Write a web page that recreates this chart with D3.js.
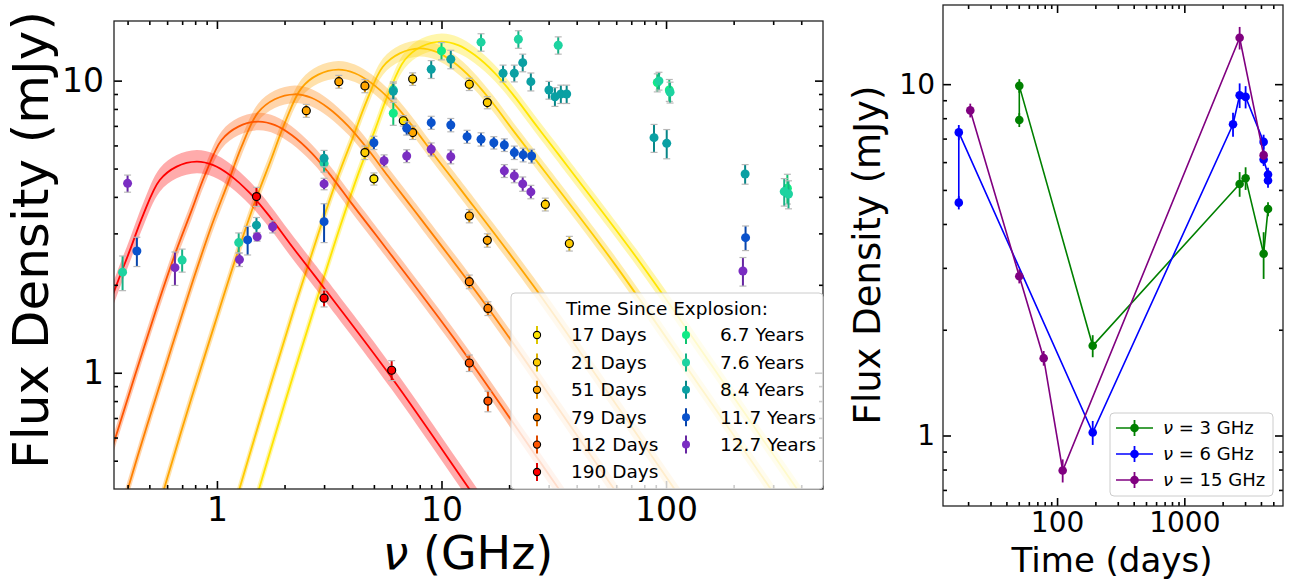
<!DOCTYPE html>
<html>
<head>
<meta charset="utf-8">
<script src="https://cdn.jsdelivr.net/npm/d3@7"></script>
<style>
  body { margin: 0; background: #fff; }
  svg { display: block; font-family: "DejaVu Sans", sans-serif; }
</style>
</head>
<body>
<div id="chart"></div>
<script>
// ---------- Left panel: radio SED, one set of arrays per epoch ----------
const sedLabels = ["17 Days", "21 Days", "51 Days", "79 Days", "112 Days", "190 Days",
                   "6.7 Years", "7.6 Years", "8.4 Years", "11.7 Years", "12.7 Years"];

const nu17d = [5.0, 6.76];
const flux17d = [4.61, 7.29];
const err17d = [0.22, 0.3];

const nu21d = [4.56, 7.44, 13.3, 16.0, 29.0, 37.1];
const flux21d = [5.67, 10.13, 9.72, 8.41, 3.77, 2.77];
const err21d = [0.3, 0.5, 0.47, 0.4, 0.19, 0.16];

const nu51d = [2.5, 3.49, 4.56, 7.44, 13.3, 16.0];
const flux51d = [7.89, 9.92, 9.59, 6.64, 3.44, 2.84];
const err51d = [0.4, 0.5, 0.5, 0.35, 0.18, 0.15];

const nu79d = [13.3, 16.1];
const flux79d = [2.05, 1.66];
const err79d = [0.11, 0.09];

const nu112d = [13.3, 16.1];
const flux112d = [1.08, 0.80];
const err112d = [0.07, 0.065];

const nu190d = [1.5, 3.0, 6.0];
const flux190d = [4.01, 1.80, 1.02];
const err190d = [0.3, 0.12, 0.08];

const nu6p7y = [6.1, 10.0, 91.4, 103.4, 347];
const flux6p7y = [7.73, 12.64, 9.85, 9.29, 4.28];
const err6p7y = [0.7, 0.86, 0.7, 0.8, 0.5];

const nu7p6y = [0.38, 0.70, 1.25, 3.0, 6.1, 15.0, 22.0, 33.1, 93.0, 104.2, 336, 351];
const flux7p6y = [2.21, 2.43, 2.79, 5.21, 9.3, 13.54, 13.86, 13.22, 9.98, 9.13, 4.17, 4.09];
const err7p6y = [0.3, 0.22, 0.22, 0.35, 0.6, 0.93, 0.96, 0.9, 0.7, 0.75, 0.45, 0.45];

const nu8p4y = [1.5, 3.0, 6.1, 9.0, 11.0, 18.8, 21.1, 23.0, 25.0, 30.1, 32.0, 34.0, 36.1, 88.4, 100.7, 225];
const flux8p4y = [3.2, 5.42, 9.2, 10.94, 11.84, 10.6, 10.6, 11.52, 9.92, 9.29, 8.81, 9.0, 9.0, 6.38, 6.1, 4.79];
const err8p4y = [0.2, 0.35, 0.6, 0.77, 0.86, 0.7, 0.7, 0.8, 0.7, 0.65, 0.65, 0.65, 0.65, 0.7, 0.7, 0.37];

const nu11p7y = [0.44, 1.37, 3.0, 5.0, 7.0, 9.0, 11.0, 13.0, 15.0, 17.1, 19.05, 21.1, 23.1, 25.2, 226];
const flux11p7y = [2.61, 2.85, 3.29, 6.13, 6.87, 7.18, 7.05, 6.43, 6.3, 6.13, 6.02, 5.67, 5.57, 5.52, 2.90];
const err11p7y = [0.3, 0.32, 0.5, 0.32, 0.36, 0.37, 0.37, 0.33, 0.33, 0.3, 0.3, 0.3, 0.3, 0.3, 0.28];

const nu12p7y = [0.40, 0.65, 1.26, 1.51, 1.77, 3.0, 5.55, 7.0, 9.0, 11.0, 19.05, 21.1, 23.0, 25.0, 220];
const flux12p7y = [4.45, 2.29, 2.44, 2.92, 3.16, 4.43, 5.32, 5.52, 5.82, 5.49, 4.91, 4.72, 4.43, 4.16, 2.23];
const err12p7y = [0.3, 0.3, 0.13, 0.1, 0.15, 0.2, 0.25, 0.28, 0.3, 0.3, 0.25, 0.25, 0.25, 0.22, 0.25];

// Model curves for the first six epochs
const model17dNu = [1.41, 2.0, 2.82, 3.55, 4.29, 5.05, 5.78, 6.86, 8.15, 10.0, 11.86, 14.06, 17.28, 21.21, 26.0, 32.0, 36.7, 74.0, 170.6, 398, 1000];
const model17dFlux = [0.319, 0.783, 1.835, 3.19, 4.87, 6.77, 8.95, 11.76, 13.08, 13.6, 13.23, 12.23, 10.61, 8.80, 7.14, 5.80, 5.05, 2.475, 0.985, 0.383, 0.136];
const model21dNu = [1.13, 1.60, 2.25, 2.84, 3.43, 4.04, 4.63, 5.48, 6.52, 8.0, 9.49, 11.25, 13.82, 16.97, 20.8, 25.6, 29.4, 59.2, 136.5, 318.5, 800];
const model21dFlux = [0.302, 0.742, 1.74, 3.02, 4.62, 6.42, 8.48, 11.16, 12.40, 12.9, 12.55, 11.60, 10.06, 8.35, 6.77, 5.50, 4.79, 2.35, 0.934, 0.364, 0.129];
const model51dNu = [0.490, 0.692, 0.978, 1.231, 1.487, 1.751, 2.006, 2.379, 2.827, 3.47, 4.115, 4.879, 5.996, 7.36, 9.022, 11.10, 12.75, 25.66, 59.2, 138.1, 347];
const model51dFlux = [0.2555, 0.627, 1.47, 2.555, 3.903, 5.425, 7.169, 9.429, 10.48, 10.9, 10.60, 9.805, 8.50, 7.053, 5.72, 4.65, 4.049, 1.984, 0.79, 0.307, 0.109];
const model79dNu = [0.314, 0.443, 0.626, 0.788, 0.951, 1.120, 1.283, 1.522, 1.809, 2.22, 2.633, 3.121, 3.836, 4.709, 5.772, 7.102, 8.154, 16.42, 37.87, 88.4, 222];
const model79dFlux = [0.2105, 0.517, 1.211, 2.105, 3.216, 4.469, 5.906, 7.768, 8.635, 8.98, 8.735, 8.078, 7.003, 5.811, 4.713, 3.831, 3.336, 1.634, 0.6505, 0.2531, 0.0898];
const model112dNu = [0.216, 0.305, 0.431, 0.543, 0.656, 0.772, 0.885, 1.049, 1.246, 1.53, 1.815, 2.151, 2.644, 3.245, 3.978, 4.894, 5.62, 11.32, 26.1, 60.9, 153];
const model112dFlux = [0.1697, 0.4166, 0.9767, 1.697, 2.593, 3.603, 4.762, 6.263, 6.962, 7.24, 7.042, 6.512, 5.646, 4.685, 3.80, 3.089, 2.69, 1.318, 0.5245, 0.204, 0.0724];
const model190dNu = [0.1147, 0.162, 0.2288, 0.2881, 0.3479, 0.4098, 0.4694, 0.5566, 0.6615, 0.812, 0.963, 1.142, 1.403, 1.722, 2.111, 2.598, 2.982, 6.006, 13.85, 32.33, 81.2];
const model190dFlux = [0.1238, 0.3038, 0.7123, 1.238, 1.891, 2.628, 3.473, 4.567, 5.077, 5.28, 5.136, 4.749, 4.117, 3.417, 2.771, 2.252, 1.962, 0.961, 0.3825, 0.1488, 0.0528];
// half-width of the shaded model band, in dex
const modelBandDex = [0.028, 0.028, 0.03, 0.03, 0.03, 0.04];

const sedMajorX = [1, 10, 100];
const sedMinorX = [0.4, 0.5, 0.6, 0.7, 0.8, 0.9, 2, 3, 4, 5, 6, 7, 8, 9, 20, 30, 40, 50, 60, 70, 80, 90, 200, 300, 400];
const sedMajorY = [1, 10];
const sedMinorY = [0.5, 0.6, 0.7, 0.8, 0.9, 2, 3, 4, 5, 6, 7, 8, 9];

// ---------- Right panel: light curves ----------
const lcLabels = ["3 GHz", "6 GHz", "15 GHz"];
const t3GHz = [50.5, 50.5, 190.6, 2720, 3030, 4198, 4545];
const flux3GHz = [7.91, 9.89, 1.80, 5.20, 5.40, 3.29, 4.41];
const err3GHz = [0.36, 0.44, 0.13, 0.42, 0.4, 0.5, 0.2];
const t6GHz = [16.9, 16.9, 190.6, 2413, 2720, 3030, 4198, 4198, 4545, 4545];
const flux6GHz = [4.60, 7.29, 1.02, 7.69, 9.30, 9.20, 6.85, 6.10, 5.53, 5.32];
const err6GHz = [0.2, 0.36, 0.08, 0.6, 0.75, 0.67, 0.33, 0.25, 0.25, 0.25];
const t15GHz = [20.8, 50.5, 78.5, 110.7, 2720, 4198];
const flux15GHz = [8.42, 2.84, 1.66, 0.795, 13.55, 6.28];
const err15GHz = [0.38, 0.13, 0.08, 0.06, 1.0, 0.2];

const lcMajorX = [100, 1000];
const lcMinorX = [20, 30, 40, 50, 60, 70, 80, 90, 200, 300, 400, 500, 600, 700, 800, 900, 2000, 3000, 4000, 5000];
const lcMajorY = [1, 10];
const lcMinorY = [0.7, 0.8, 0.9, 2, 3, 4, 5, 6, 7, 8, 9];

// ---------- styles ----------
const sedColors = ["#ffe500", "#ffcc00", "#ffa500", "#ff8000", "#ff5500", "#ff0000",
                   "#12ea86", "#1dd3a0", "#0aa0a3", "#0a52cc", "#7a2dc2"];
const lcColors = ["#008000", "#0000ff", "#800080"];

const sedNu = [nu17d, nu21d, nu51d, nu79d, nu112d, nu190d, nu6p7y, nu7p6y, nu8p4y, nu11p7y, nu12p7y];
const sedFlux = [flux17d, flux21d, flux51d, flux79d, flux112d, flux190d, flux6p7y, flux7p6y, flux8p4y, flux11p7y, flux12p7y];
const sedErr = [err17d, err21d, err51d, err79d, err112d, err190d, err6p7y, err7p6y, err8p4y, err11p7y, err12p7y];
const modelNu = [model17dNu, model21dNu, model51dNu, model79dNu, model112dNu, model190dNu];
const modelFlux = [model17dFlux, model21dFlux, model51dFlux, model79dFlux, model112dFlux, model190dFlux];

const W = 1290, H = 580;
const svg = d3.select("#chart").append("svg")
    .attr("width", W)
    .attr("height", H);

svg.append("rect").attr("width", W).attr("height", H).attr("fill", "#fff");

// Draws inward ticks on all four sides of a log/log box
function drawFrame(g, x, y, majX, minX, majY, minY, fontSize, padX, padY) {
    let [x0, x1] = x.range();
    let [y0, y1] = y.range();
    let fmt = d3.format("d");

    let bottom = g.append("g").attr("transform", "translate(0," + y0 + ")");
    bottom.call(d3.axisBottom(x).tickValues(minX).tickSize(-4).tickSizeOuter(0).tickFormat(""));
    bottom.append("g").call(d3.axisBottom(x).tickValues(majX).tickSize(-8).tickSizeOuter(0).tickPadding(padX).tickFormat(fmt));

    let top = g.append("g").attr("transform", "translate(0," + y1 + ")");
    top.call(d3.axisTop(x).tickValues(minX).tickSize(-4).tickSizeOuter(0).tickFormat(""));
    top.append("g").call(d3.axisTop(x).tickValues(majX).tickSize(-8).tickSizeOuter(0).tickFormat(""));

    let left = g.append("g").attr("transform", "translate(" + x0 + ",0)");
    left.call(d3.axisLeft(y).tickValues(minY).tickSize(-4).tickSizeOuter(0).tickFormat(""));
    left.append("g").call(d3.axisLeft(y).tickValues(majY).tickSize(-8).tickSizeOuter(0).tickPadding(padY).tickFormat(fmt));

    let right = g.append("g").attr("transform", "translate(" + x1 + ",0)");
    right.call(d3.axisRight(y).tickValues(minY).tickSize(-4).tickSizeOuter(0).tickFormat(""));
    right.append("g").call(d3.axisRight(y).tickValues(majY).tickSize(-8).tickSizeOuter(0).tickFormat(""));

    g.selectAll(".domain").remove();
    g.selectAll(".tick line").attr("stroke", "#000").attr("stroke-width", 1.1);
    g.selectAll("g g .tick line").attr("stroke-width", 1.6);
    g.selectAll(".tick text")
        .attr("font-family", "DejaVu Sans, sans-serif")
        .attr("font-size", fontSize)
        .attr("fill", "#000");

    g.append("rect")
        .attr("x", x0).attr("y", y1)
        .attr("width", x1 - x0).attr("height", y0 - y1)
        .attr("fill", "none")
        .attr("stroke", "#222")
        .attr("stroke-width", 1.3);
}

// ================= Left panel =================
const xL = d3.scaleLog().domain([0.348, 500]).range([114, 823]);
const yL = d3.scaleLog().domain([0.4, 16]).range([489, 21]);

svg.append("clipPath").attr("id", "clipL")
  .append("rect").attr("x", 114).attr("y", 21).attr("width", 709).attr("height", 468);

const plotL = svg.append("g").attr("clip-path", "url(#clipL)");

// model bands and lines
modelNu.forEach((nus, i) => {
    let pts = nus.map((nu, j) => [nu, modelFlux[i][j]]);
    let k = Math.pow(10, modelBandDex[i]);
    let band = d3.area()
        .x(d => xL(d[0]))
        .y0(d => yL(d[1] / k))
        .y1(d => yL(d[1] * k))
        .curve(d3.curveCatmullRom);
    let line = d3.line()
        .x(d => xL(d[0]))
        .y(d => yL(d[1]))
        .curve(d3.curveCatmullRom);

    plotL.append("path")
        .attr("d", band(pts))
        .attr("fill", sedColors[i])
        .attr("fill-opacity", 0.33);
    plotL.append("path")
        .attr("d", line(pts))
        .attr("fill", "none")
        .attr("stroke", sedColors[i])
        .attr("stroke-width", 1.8);
});

// data points with error bars
const pointsL = svg.append("g");
sedLabels.forEach((label, i) => {
    let early = i < 6;
    let pts = sedNu[i].map((nu, j) => ({ nu: nu, f: sedFlux[i][j], e: sedErr[i][j] }));
    let barColor = d3.color(sedColors[i]).darker(early ? 0.4 : 0.5).formatHex();
    let g = pointsL.append("g");

    g.selectAll(".bar").data(pts).join("line")
        .attr("x1", d => xL(d.nu)).attr("x2", d => xL(d.nu))
        .attr("y1", d => yL(d.f - d.e)).attr("y2", d => yL(d.f + d.e))
        .attr("stroke", barColor)
        .attr("stroke-width", 2);

    g.selectAll(".cap").data(pts.flatMap(d => [d.f - d.e, d.f + d.e].map(v => ({ nu: d.nu, v: v })))).join("line")
        .attr("x1", d => xL(d.nu) - 3.5).attr("x2", d => xL(d.nu) + 3.5)
        .attr("y1", d => yL(d.v)).attr("y2", d => yL(d.v))
        .attr("stroke", "#b8b8b8")
        .attr("stroke-width", 1.2);

    g.selectAll("circle").data(pts).join("circle")
        .attr("cx", d => xL(d.nu))
        .attr("cy", d => yL(d.f))
        .attr("r", early ? 4 : 4.5)
        .attr("fill", sedColors[i])
        .attr("stroke", early ? "#000" : "none")
        .attr("stroke-width", 1.2);
});

drawFrame(svg.append("g"), xL, yL, sedMajorX, sedMinorX, sedMajorY, sedMinorY, 33, 9, 10);

// axis titles
svg.append("text")
    .attr("x", 468).attr("y", 569)
    .attr("text-anchor", "middle")
    .attr("font-size", 46)
    .html('<tspan font-style="italic">ν</tspan> (GHz)');

svg.append("text")
    .attr("transform", "translate(48,240) rotate(-90)")
    .attr("text-anchor", "middle")
    .attr("font-size", 50)
    .text("Flux Density (mJy)");

// legend
const legL = svg.append("g");
legL.append("rect")
    .attr("x", 511).attr("y", 293)
    .attr("width", 312).attr("height", 196)
    .attr("rx", 4)
    .attr("fill", "#fff").attr("fill-opacity", 0.8)
    .attr("stroke", "#cccccc");

legL.append("text")
    .attr("x", 667).attr("y", 309).attr("dy", "0.35em")
    .attr("text-anchor", "middle")
    .attr("font-size", 18.5)
    .text("Time Since Explosion:");

sedLabels.forEach((label, i) => {
    let early = i < 6;
    let col = early ? 0 : 1;
    let row = early ? i : i - 6;
    let mx = col === 0 ? 537 : 686;
    let my = 335 + row * 27.4;
    let e = legL.append("g");
    e.append("line")
        .attr("x1", mx).attr("x2", mx)
        .attr("y1", my - 9).attr("y2", my + 9)
        .attr("stroke", d3.color(sedColors[i]).darker(early ? 0.4 : 0.5).formatHex())
        .attr("stroke-width", 2);
    e.append("circle")
        .attr("cx", mx).attr("cy", my)
        .attr("r", early ? 3.6 : 4)
        .attr("fill", sedColors[i])
        .attr("stroke", early ? "#000" : "none")
        .attr("stroke-width", 1.1);
    e.append("text")
        .attr("x", mx + 34).attr("y", my).attr("dy", "0.35em")
        .attr("font-size", 18.5)
        .text(label);
});

// ================= Right panel =================
const xR = d3.scaleLog().domain([12.7, 5960]).range([943, 1283]);
const yR = d3.scaleLog().domain([0.63, 16.8]).range([506, 5]);

const lcT = [t3GHz, t6GHz, t15GHz];
const lcFlux = [flux3GHz, flux6GHz, flux15GHz];
const lcErr = [err3GHz, err6GHz, err15GHz];

const plotR = svg.append("g");
lcLabels.forEach((label, i) => {
    let pts = lcT[i].map((t, j) => ({ t: t, f: lcFlux[i][j], e: lcErr[i][j] }));
    let line = d3.line().x(d => xR(d.t)).y(d => yR(d.f));
    let g = plotR.append("g");
    g.append("path")
        .attr("d", line(pts))
        .attr("fill", "none")
        .attr("stroke", lcColors[i])
        .attr("stroke-width", 1.6);
    g.selectAll(".bar").data(pts).join("line")
        .attr("x1", d => xR(d.t)).attr("x2", d => xR(d.t))
        .attr("y1", d => yR(d.f - d.e)).attr("y2", d => yR(d.f + d.e))
        .attr("stroke", lcColors[i])
        .attr("stroke-width", 1.8);
    g.selectAll("circle").data(pts).join("circle")
        .attr("cx", d => xR(d.t))
        .attr("cy", d => yR(d.f))
        .attr("r", 4.3)
        .attr("fill", lcColors[i]);
});

drawFrame(svg.append("g"), xR, yR, lcMajorX, lcMinorX, lcMajorY, lcMinorY, 28, 6, 8);

svg.append("text")
    .attr("x", 1112).attr("y", 572)
    .attr("text-anchor", "middle")
    .attr("font-size", 34)
    .text("Time (days)");

svg.append("text")
    .attr("transform", "translate(880,255) rotate(-90)")
    .attr("text-anchor", "middle")
    .attr("font-size", 37)
    .text("Flux Density (mJy)");

// legend
const legR = svg.append("g");
legR.append("rect")
    .attr("x", 1110).attr("y", 413)
    .attr("width", 163).attr("height", 83)
    .attr("rx", 4)
    .attr("fill", "#fff").attr("fill-opacity", 0.8)
    .attr("stroke", "#cccccc");

lcLabels.forEach((label, i) => {
    let my = 428 + i * 26;
    let e = legR.append("g");
    e.append("line")
        .attr("x1", 1116).attr("x2", 1153)
        .attr("y1", my).attr("y2", my)
        .attr("stroke", lcColors[i]).attr("stroke-width", 1.6);
    e.append("line")
        .attr("x1", 1134.5).attr("x2", 1134.5)
        .attr("y1", my - 8).attr("y2", my + 8)
        .attr("stroke", lcColors[i]).attr("stroke-width", 1.8);
    e.append("circle")
        .attr("cx", 1134.5).attr("cy", my).attr("r", 4.3)
        .attr("fill", lcColors[i]);
    e.append("text")
        .attr("x", 1163).attr("y", my).attr("dy", "0.35em")
        .attr("font-size", 18)
        .html('<tspan font-style="italic">ν</tspan> = ' + label);
});
</script>
</body>
</html>
